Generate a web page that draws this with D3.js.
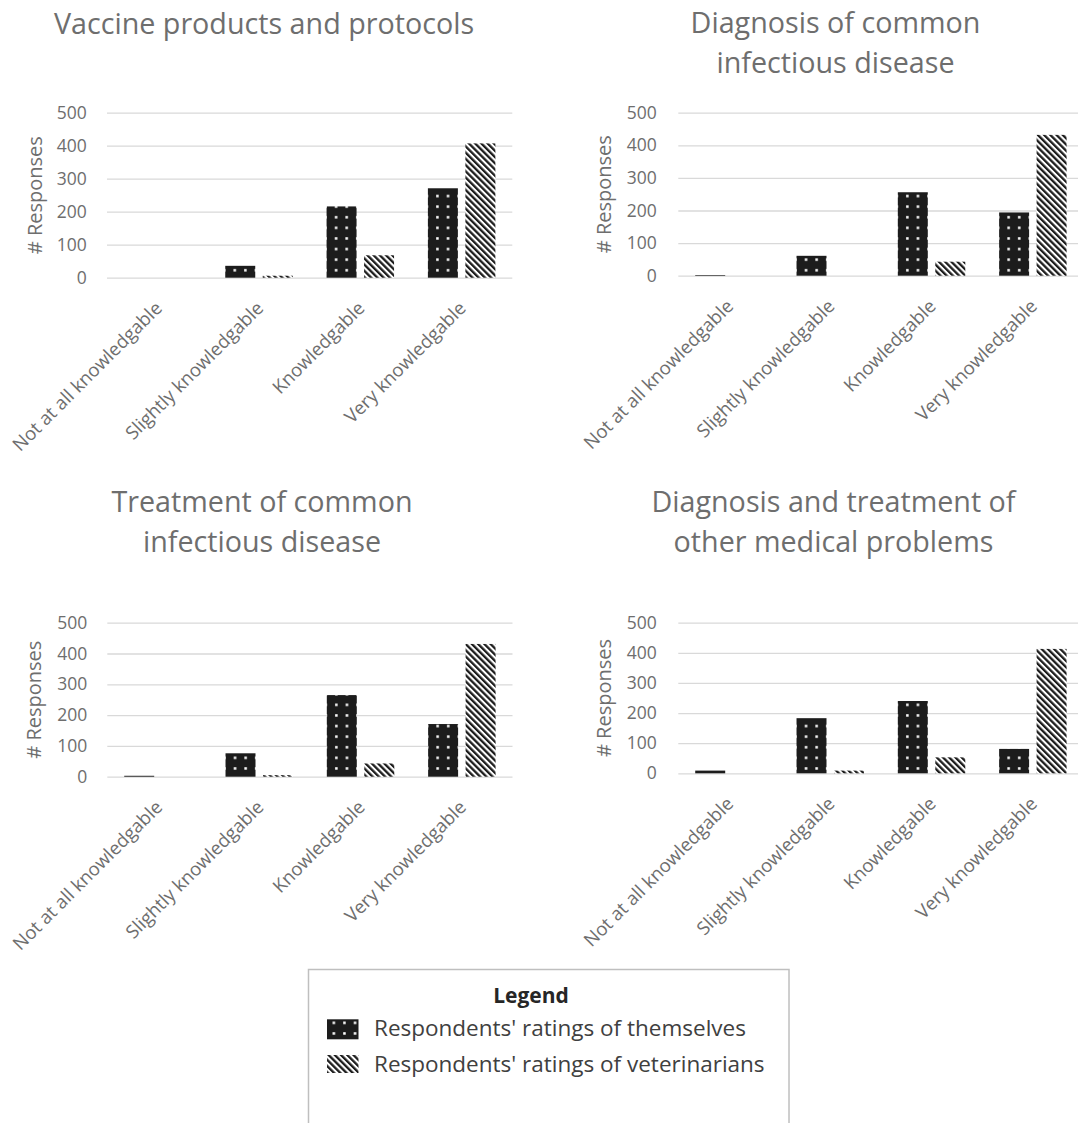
<!DOCTYPE html>
<html>
<head>
<meta charset="utf-8">
<script src="https://cdn.jsdelivr.net/npm/d3@7"></script>
<style>
  html, body { margin: 0; padding: 0; background: #ffffff; }
  svg { display: block; font-family: "Open Sans", "Noto Sans", sans-serif; }
</style>
</head>
<body>
<svg id="chart" width="1078" height="1123"></svg>
<script>
// ---------------- DATA ----------------
const categories = ["Not at all knowledgable", "Slightly knowledgable", "Knowledgable", "Very knowledgable"];
const seriesNames = ["Respondents' ratings of themselves", "Respondents' ratings of veterinarians"];
const panelTitles = [
  ["Vaccine products and protocols"],
  ["Diagnosis of common", "infectious disease"],
  ["Treatment of common", "infectious disease"],
  ["Diagnosis and treatment of", "other medical problems"]
];
const selfRatings = [
  [0, 36, 216, 271],
  [2, 61, 256, 194],
  [3, 76, 265, 171],
  [9, 183, 240, 81]
];
const vetRatings = [
  [0, 6, 68, 407],
  [0, 0, 43, 432],
  [0, 5, 43, 431],
  [0, 9, 53, 413]
];
const yTicks = [0, 100, 200, 300, 400, 500];
const yLabel = "# Responses";
const legendTitle = "Legend";

// ---------------- LAYOUT ----------------
const layout = [
  { x0: 107,   x1: 512.3,  yTop: 112.7, yBase: 277.7, titleX: 264,   titleY: 34,    ylabX: 35,  tickRight: 86.7 },
  { x0: 678.3, x1: 1083.5, yTop: 112.7, yBase: 275.7, titleX: 835.5, titleY: 33.3,  ylabX: 604, tickRight: 656.7 },
  { x0: 107.3, x1: 512.5,  yTop: 622.7, yBase: 776.7, titleX: 262,   titleY: 511.7, ylabX: 34,  tickRight: 87.3 },
  { x0: 678.3, x1: 1083.5, yTop: 622.7, yBase: 773.3, titleX: 833.5, titleY: 511.7, ylabX: 604, tickRight: 656.7 }
];
const gridColor = "#d9d9d9";
const textGray = "#6e6e6e";
const barBlack = "#1c1c1c";

const svg = d3.select("#chart");
svg.append("rect").attr("width", 1078).attr("height", 1123).attr("fill", "#fff");

// ---------------- PATTERNS ----------------
const defs = svg.append("defs");
const dots = defs.append("pattern")
  .attr("id", "dots").attr("patternUnits", "userSpaceOnUse")
  .attr("width", 10.6).attr("height", 10.6);
dots.append("rect").attr("width", 10.6).attr("height", 10.6).attr("fill", barBlack);
dots.append("rect").attr("x", 4).attr("y", 4).attr("width", 2.5).attr("height", 2.5).attr("fill", "#fff");

const hatch = defs.append("pattern")
  .attr("id", "hatch").attr("patternUnits", "userSpaceOnUse")
  .attr("width", 4.4).attr("height", 4.4)
  .attr("patternTransform", "rotate(-45)");
hatch.append("rect").attr("width", 4.4).attr("height", 4.4).attr("fill", "#fff");
hatch.append("rect").attr("width", 2.3).attr("height", 4.4).attr("fill", barBlack);

const fills = ["url(#dots)", "url(#hatch)"];

// ---------------- PANELS ----------------
layout.forEach((L, i) => {
  const g = svg.append("g");
  const x0 = d3.scaleBand().domain(categories).range([L.x0, L.x1]).padding(0);
  const bw = x0.bandwidth();
  const x1 = d3.scaleBand().domain(seriesNames)
    .range([bw * 0.167, bw * 0.833]).paddingInner(0.2).paddingOuter(0);
  const y = d3.scaleLinear().domain([0, 500]).range([L.yBase, L.yTop]);

  // gridlines
  const grid = g.append("g")
    .attr("transform", `translate(${L.x0},0)`)
    .call(d3.axisLeft(y).tickValues(yTicks).tickSize(-(L.x1 - L.x0)).tickFormat(""));
  grid.select(".domain").remove();
  grid.selectAll("line").attr("stroke", gridColor).attr("stroke-width", 1.3);

  // y tick labels
  const ya = g.append("g")
    .attr("transform", `translate(${L.x0},0)`)
    .call(d3.axisLeft(y).tickValues(yTicks).tickSize(0).tickPadding(L.x0 - L.tickRight).tickFormat(d3.format("d")));
  ya.select(".domain").remove();
  ya.selectAll("text").attr("fill", textGray).style("font-size", "17.5px")
    .style("font-family", "'Open Sans', sans-serif");

  // y label
  g.append("text")
    .attr("transform", `translate(${L.ylabX},${(L.yTop + L.yBase) / 2}) rotate(-90)`)
    .attr("text-anchor", "middle").attr("dy", "0.35em")
    .attr("fill", textGray).style("font-size", "20px")
    .text(yLabel);

  // bars
  const rows = categories.map((c, k) => ({ cat: c, vals: [selfRatings[i][k], vetRatings[i][k]] }));
  const cg = g.selectAll(".cat").data(rows).enter().append("g")
    .attr("transform", d => `translate(${x0(d.cat)},0)`);
  cg.selectAll("rect").data(d => d.vals.map((v, s) => ({ s, v })).filter(e => e.v > 0))
    .enter().append("rect")
    .attr("x", d => x1(seriesNames[d.s]))
    .attr("width", x1.bandwidth())
    .attr("y", d => y(d.v))
    .attr("height", d => y(0) - y(d.v))
    .attr("fill", d => fills[d.s]);

  // x axis labels
  const xa = g.append("g")
    .attr("transform", `translate(0,${L.yBase})`)
    .call(d3.axisBottom(x0).tickSize(0));
  xa.select(".domain").remove();
  xa.selectAll("text")
    .attr("x", 0).attr("y", 0).attr("dy", "0.35em")
    .attr("transform", "translate(1,27) rotate(-45)")
    .attr("text-anchor", "end")
    .attr("fill", textGray).style("font-size", "18.5px")
    .style("font-family", "'Open Sans', sans-serif");

  // title
  const t = g.append("text")
    .attr("x", L.titleX).attr("y", L.titleY)
    .attr("text-anchor", "middle")
    .attr("fill", textGray).style("font-size", "28.7px");
  panelTitles[i].forEach((line, j) => {
    t.append("tspan").attr("x", L.titleX).attr("y", L.titleY + j * 40).text(line);
  });
});

// ---------------- LEGEND ----------------
const lg = svg.append("g");
lg.append("rect").attr("x", 308.5).attr("y", 969.5).attr("width", 480.5).attr("height", 170)
  .attr("fill", "#fff").attr("stroke", "#bfbfbf").attr("stroke-width", 1.5);
lg.append("text").attr("x", 531).attr("y", 1003).attr("text-anchor", "middle")
  .attr("fill", "#262626").style("font-size", "21px").style("font-weight", "bold")
  .text(legendTitle);
const ly = d3.scalePoint().domain(seriesNames).range([1019.3, 1055]);
seriesNames.forEach((name, s) => {
  lg.append("rect").attr("x", 327).attr("y", ly(name)).attr("width", 31.5).attr("height", s === 0 ? 20 : 18)
    .attr("fill", fills[s]);
  lg.append("text").attr("x", 374).attr("y", ly(name) + 16.5)
    .attr("fill", "#404040").style("font-size", "22.5px")
    .text(name);
});
</script>
</body>
</html>
